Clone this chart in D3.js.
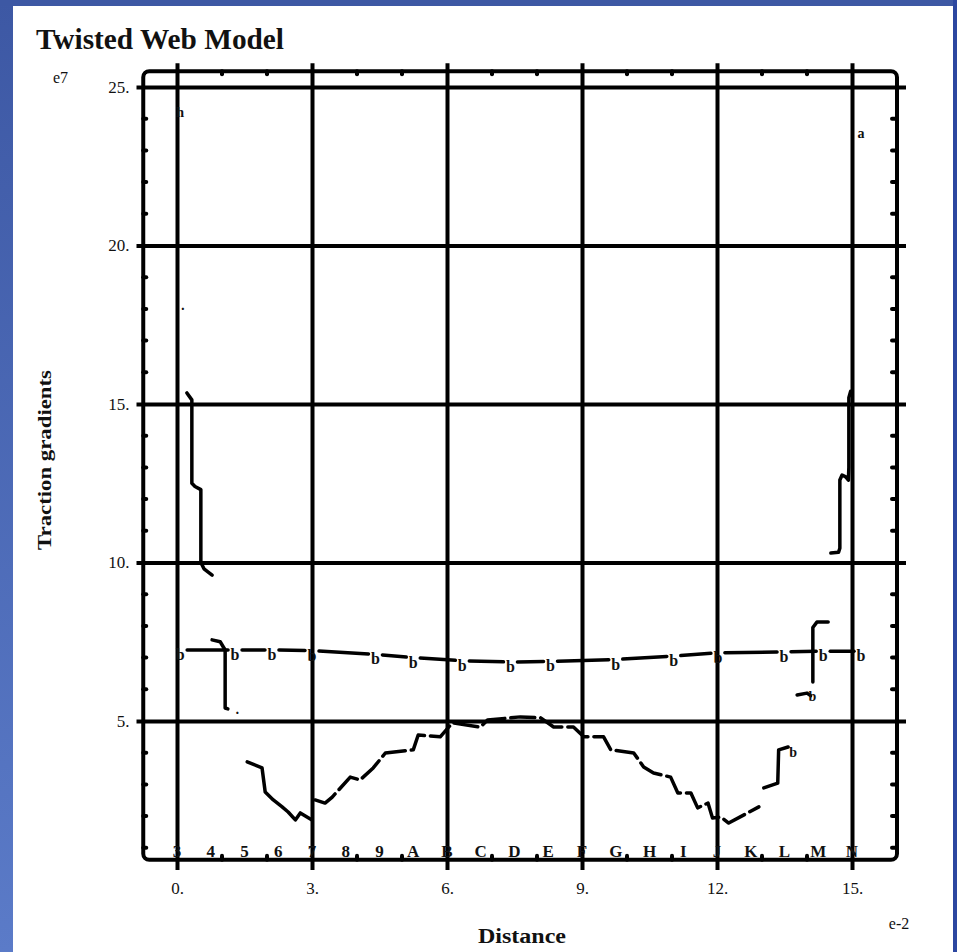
<!DOCTYPE html>
<html>
<head>
<meta charset="utf-8">
<script src="https://cdn.jsdelivr.net/npm/d3@7"></script>
<style>
  body { margin: 0; background: #fff; }
  svg text { font-family: "Liberation Serif", "Times New Roman", serif; fill: #111; }
</style>
</head>
<body>
<svg width="957" height="952"></svg>
<script>
const svg = d3.select("svg");
const width = +svg.attr("width");
const height = +svg.attr("height");

// ticks and labels
const xTicks = [0, 3, 6, 9, 12, 15];
const yTicks = [5, 10, 15, 20, 25];
const minorX = [1, 2, 4, 5, 7, 8, 10, 11, 13, 14];
const minorY = [1, 2, 3, 4, 6, 7, 8, 9, 11, 12, 13, 14, 16, 17, 18, 19, 21, 22, 23, 24];
const nodeLabels = ["3", "4", "5", "6", "7", "8", "9", "A", "B", "C", "D", "E", "F", "G", "H", "I", "J", "K", "L", "M", "N"];
const nodePos = [0, 0.75, 1.5, 2.25, 3, 3.75, 4.5, 5.25, 6, 6.75, 7.5, 8.25, 9, 9.75, 10.5, 11.25, 12, 12.75, 13.5, 14.25, 15];

// middle web line ("b" markers)
const webX = [0.07, 1.29, 2.11, 3.0, 4.41, 5.25, 6.34, 7.41, 8.30, 9.75, 11.04, 12.02, 13.49, 14.36, 15.2];
const webY = [7.24, 7.24, 7.24, 7.22, 7.1, 7.0, 6.9, 6.86, 6.88, 6.94, 7.05, 7.15, 7.18, 7.2, 7.2];

// lower arch
const archLeftX = [1.56, 1.89, 1.96, 2.14, 2.33, 2.47, 2.63, 2.74, 3.0];
const archLeftY = [3.71, 3.52, 2.76, 2.51, 2.3, 2.13, 1.88, 2.1, 1.88];
const archX = [3.07, 3.29, 3.45, 3.85, 4.07, 4.36, 4.63, 5.25, 5.36, 5.85, 6.12, 6.74, 6.9, 7.63, 8.08, 8.37, 8.81, 9.04, 9.48, 9.64, 10.15, 10.37, 10.59, 10.97, 11.13, 11.42, 11.57, 11.8, 11.9, 12.09, 12.26, 12.93];
const archY = [2.51, 2.41, 2.6, 3.23, 3.14, 3.52, 3.99, 4.09, 4.56, 4.5, 4.94, 4.81, 5.03, 5.13, 5.1, 4.81, 4.81, 4.5, 4.5, 4.09, 3.99, 3.55, 3.36, 3.23, 2.73, 2.73, 2.26, 2.41, 1.94, 1.97, 1.78, 2.29];
const archRightX = [13.04, 13.35, 13.37, 13.58];
const archRightY = [2.89, 3.04, 4.09, 4.18];

// steps near the ends
const leftStepX = [0.22, 0.33, 0.33, 0.4, 0.53, 0.53, 0.6, 0.78];
const leftStepY = [15.35, 15.13, 12.5, 12.4, 12.3, 10.0, 9.8, 9.6];
const rightStepX = [14.53, 14.7, 14.73, 14.73, 14.78, 14.86, 14.92, 14.93, 14.93, 14.97];
const rightStepY = [10.3, 10.32, 10.45, 12.6, 12.76, 12.7, 12.6, 13.0, 15.2, 15.4];
const leftHookX = [0.78, 0.96, 1.07, 1.07, 1.13];
const leftHookY = [7.56, 7.5, 7.24, 5.41, 5.38];
const rightHookX = [14.47, 14.22, 14.13, 14.13];
const rightHookY = [8.12, 8.12, 7.95, 6.23];
const rightTailX = [13.78, 14.0, 14.08];
const rightTailY = [5.82, 5.88, 5.8];

// stray marks
const markX = [0.07, 0.13, 15.2, 1.34, 14.12, 13.69];
const markY = [24.2, 18.0, 23.55, 5.25, 5.8, 4.03];
const markText = ["h", "\u00b7", "a", "\u00b7", "b", "b"];

const x = d3.scaleLinear().domain([0, 15]).range([177, 852]);
const y = d3.scaleLinear().domain([0, 25]).range([879.5, 87]);

/* background */
const defs = svg.append("defs");
const grad = defs.append("linearGradient").attr("id", "blue").attr("x1", 0).attr("y1", 0).attr("x2", 0).attr("y2", 1);
grad.append("stop").attr("offset", 0).attr("stop-color", "#3d58a4");
grad.append("stop").attr("offset", 1).attr("stop-color", "#5b7bc8");
svg.append("rect").attr("width", width).attr("height", height).attr("fill", "#fff");
svg.append("rect").attr("width", 13).attr("height", height).attr("fill", "url(#blue)");
svg.append("rect").attr("width", width).attr("height", 6).attr("fill", "#3d58a4");
svg.append("rect").attr("x", 953).attr("width", 4).attr("height", height).attr("fill", "#2c47a0");

/* grid via axes */
const gx = svg.append("g")
  .attr("transform", `translate(0,${y(0.3)})`)
  .call(d3.axisBottom(x).tickValues(xTicks).tickFormat(d => d + ".")
    .tickSize(-(y(0.3) - y(25.75))).tickPadding(12));
const gy = svg.append("g")
  .attr("transform", `translate(${x(-0.9)},0)`)
  .call(d3.axisLeft(y).tickValues(yTicks).tickFormat(d => d + ".")
    .tickSize(-(x(16.2) - x(-0.9))).tickPadding(7));
[gx, gy].forEach(g => {
  g.select(".domain").remove();
  g.selectAll(".tick line").attr("stroke", "#000").attr("stroke-width", 4);
  g.selectAll(".tick text").style("font-size", "17px").attr("fill", "#111");
});

/* frame */
svg.append("rect")
  .attr("x", x(-0.75)).attr("y", y(25.5))
  .attr("width", x(16) - x(-0.75)).attr("height", y(0.62) - y(25.5))
  .attr("rx", 6)
  .attr("fill", "none").attr("stroke", "#000").attr("stroke-width", 4);

/* minor ticks */
const minor = svg.append("g").attr("stroke", "#000").attr("stroke-width", 4).attr("stroke-linecap", "round");
minorX.forEach(v => {
  minor.append("line").attr("x1", x(v)).attr("x2", x(v)).attr("y1", y(0.62)).attr("y2", y(0.62) - 4);
  minor.append("line").attr("x1", x(v)).attr("x2", x(v)).attr("y1", y(25.5)).attr("y2", y(25.5) + 3);
});
minorY.forEach(v => {
  minor.append("line").attr("y1", y(v)).attr("y2", y(v)).attr("x1", x(-0.75)).attr("x2", x(-0.75) + 3);
  minor.append("line").attr("y1", y(v)).attr("y2", y(v)).attr("x1", x(16)).attr("x2", x(16) - 5);
});

/* node labels along the bottom */
svg.append("g").selectAll("text")
  .data(nodeLabels)
  .enter().append("text")
  .attr("x", (d, i) => x(nodePos[i]))
  .attr("y", y(0.62) - 3)
  .attr("text-anchor", "middle")
  .style("font-size", "17px")
  .style("font-weight", "bold")
  .text(d => d);

/* data lines */
const line = d3.line().x(d => x(d[0])).y(d => y(d[1]));
const zip = (xs, ys) => xs.map((v, i) => [v, ys[i]]);
const plot = svg.append("g")
  .attr("fill", "none").attr("stroke", "#000")
  .attr("stroke-width", 3.5).attr("stroke-linejoin", "round").attr("stroke-linecap", "round");

[[leftStepX, leftStepY], [rightStepX, rightStepY], [leftHookX, leftHookY],
 [rightHookX, rightHookY], [rightTailX, rightTailY], [archLeftX, archLeftY], [archRightX, archRightY]]
  .forEach(([xs, ys]) => plot.append("path").attr("d", line(zip(xs, ys))));

plot.append("path")
  .attr("d", line(zip(archX, archY)))
  .attr("stroke-dasharray", "24,6");

// web line: segments broken at each marker
const web = zip(webX, webY);
for (let i = 0; i < web.length - 1; i++) {
  const ax = x(web[i][0]), ay = y(web[i][1]);
  const bx = x(web[i + 1][0]), by = y(web[i + 1][1]);
  const len = Math.hypot(bx - ax, by - ay);
  const ux = (bx - ax) / len, uy = (by - ay) / len;
  plot.append("line")
    .attr("x1", ax + ux * 7).attr("y1", ay + uy * 7)
    .attr("x2", bx - ux * 7).attr("y2", by - uy * 7);
}
svg.append("g").selectAll("text")
  .data(web)
  .enter().append("text")
  .attr("x", d => x(d[0]))
  .attr("y", d => y(d[1]) + 10)
  .attr("text-anchor", "middle")
  .style("font-size", "16px")
  .style("font-weight", "bold")
  .attr("fill", "#000")
  .text("b");

svg.append("g").selectAll("text")
  .data(markText)
  .enter().append("text")
  .attr("x", (d, i) => x(markX[i]))
  .attr("y", (d, i) => y(markY[i]) + 5)
  .attr("text-anchor", "middle")
  .style("font-size", "14px")
  .style("font-weight", "bold")
  .attr("fill", "#333")
  .text(d => d);

/* titles */
svg.append("text")
  .attr("x", 36).attr("y", 49)
  .attr("textLength", 248).attr("lengthAdjust", "spacingAndGlyphs")
  .style("font-size", "29px").style("font-weight", "bold")
  .text("Twisted Web Model");
svg.append("text").attr("x", 53).attr("y", 83).style("font-size", "16px").text("e7");
svg.append("text").attr("x", 899).attr("y", 929).attr("text-anchor", "middle").style("font-size", "16px").text("e-2");
svg.append("text")
  .attr("x", 522).attr("y", 943).attr("text-anchor", "middle")
  .attr("textLength", 88).attr("lengthAdjust", "spacingAndGlyphs")
  .style("font-size", "20px").style("font-weight", "bold")
  .text("Distance");
svg.append("text")
  .attr("transform", "translate(51,460) rotate(-90)")
  .attr("text-anchor", "middle")
  .attr("textLength", 180).attr("lengthAdjust", "spacingAndGlyphs")
  .style("font-size", "19px").style("font-weight", "bold")
  .text("Traction gradients");
</script>
</body>
</html>
